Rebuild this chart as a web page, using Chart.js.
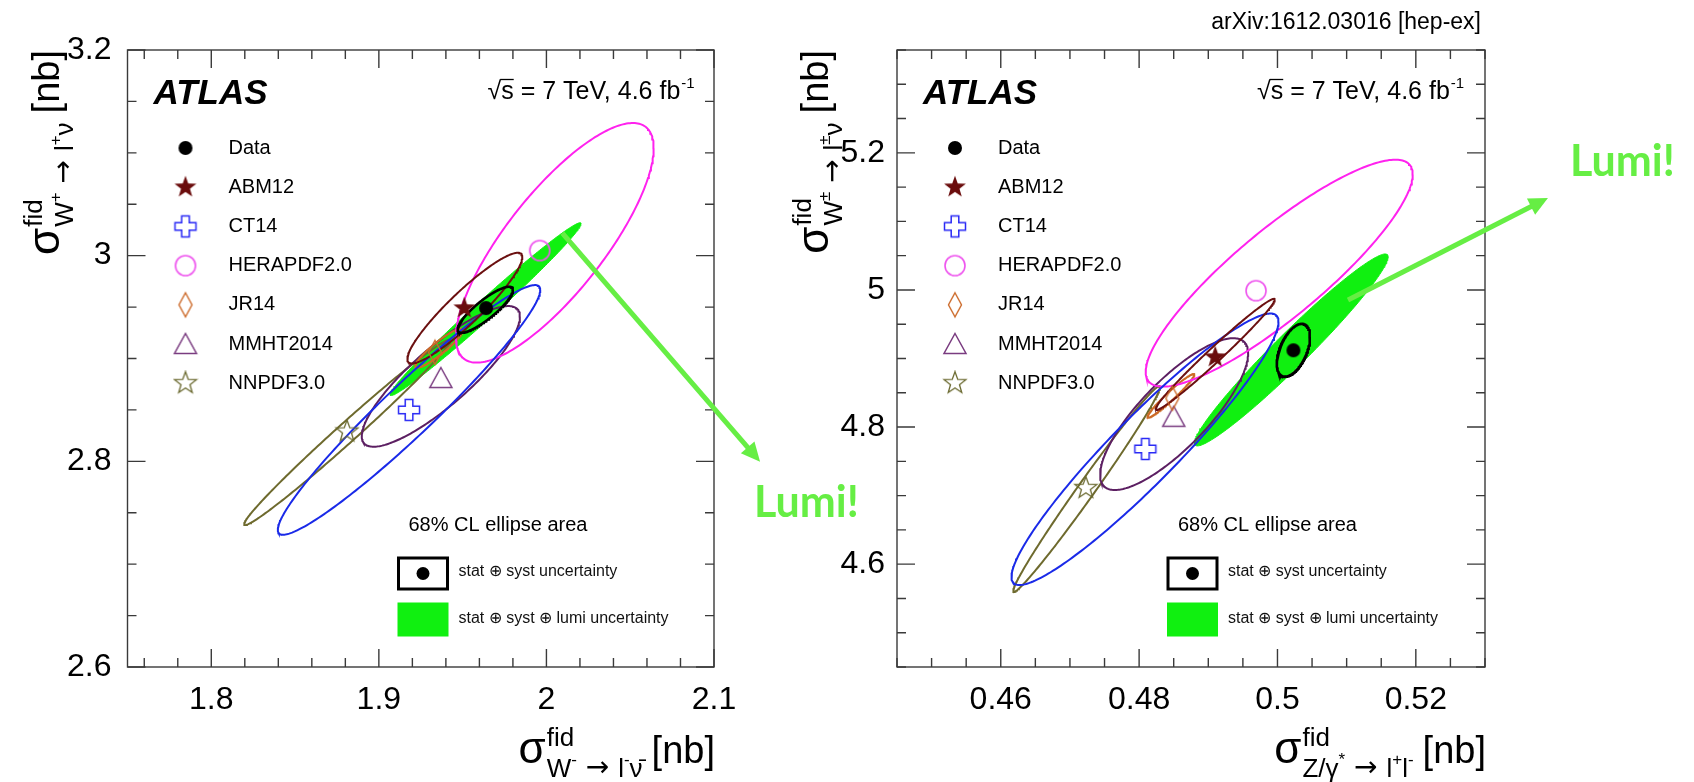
<!DOCTYPE html>
<html>
<head>
<meta charset="utf-8">
<title>ATLAS W/Z fiducial cross sections</title>
<script src="https://cdn.jsdelivr.net/npm/chart.js"></script>
<style>
  html, body { margin: 0; padding: 0; background: #fff; }
  #wrap { position: relative; width: 1694px; height: 782px; overflow: hidden; }
  #wrap canvas { position: absolute; left: 0; top: 0; }
</style>
</head>
<body>
<div id="wrap">
  <canvas id="wChart" width="1694" height="782"></canvas>
  <canvas id="zChart" width="1694" height="782"></canvas>
</div>
<script>
// PDF sets, same order in every array below
const pdfSets = ['ABM12', 'CT14', 'HERAPDF2.0', 'JR14', 'MMHT2014', 'NNPDF3.0'];

// left panel: sigma(W-) on x, sigma(W+) on y  [nb]
const wmPred = [1.951, 1.918, 1.996, 1.9335, 1.937, 1.881];
const wpPred = [2.949, 2.850, 3.005, 2.906, 2.881, 2.829];
const wmData = 1.964;
const wpData = 2.949;
// 68% CL ellipses: [centre x, centre y, half width x, half width y, correlation]
const wEllipses = [
  [1.9513, 2.949, 0.0343, 0.0538, 0.92],
  [1.918, 2.850, 0.0783, 0.1214, 0.96],
  [2.005, 3.0125, 0.059, 0.1165, 0.79],
  [1.9358, 2.910, 0.0142, 0.019, 0.92],
  [1.937, 2.8826, 0.0472, 0.0684, 0.85],
  [1.881, 2.828, 0.0614, 0.090, 0.99]
];
const wDataStat = [1.9635, 2.9474, 0.0165, 0.0224, 0.86];
const wDataTotal = [1.9637, 2.948, 0.057, 0.084, 0.989];
const wmTicks = [1.8, 1.9, 2, 2.1];
const wpTicks = [2.6, 2.8, 3, 3.2];

// right panel: sigma(Z/gamma*) on x, sigma(W+-) on y  [nb]
const zPred = [0.491, 0.4809, 0.4969, 0.4848, 0.4850, 0.4723];
const wpmPred = [4.902, 4.768, 4.999, 4.842, 4.815, 4.711];
const zData = 0.5023;
const wpmData = 4.912;
const zEllipses = [
  [0.491, 4.906, 0.0086, 0.081, 0.985],
  [0.48085, 4.7676, 0.0193, 0.198, 0.94],
  [0.50025, 5.0245, 0.0193, 0.1655, 0.87],
  [0.48458, 4.8455, 0.0034, 0.032, 0.967],
  [0.48506, 4.8189, 0.0107, 0.1107, 0.80],
  [0.4724, 4.7095, 0.0106, 0.150, 0.99]
];
const zDataStat = [0.5023, 4.912, 0.0024, 0.0385, 0.5];
const zDataTotal = [0.502, 4.9125, 0.0140, 0.140, 0.97];
const zTicks = [0.46, 0.48, 0.5, 0.52];
const wpmTicks = [4.6, 4.8, 5, 5.2];

// styling
const FONT = '"Liberation Sans", Arial, sans-serif';
const green = '#10f010';
const lumiGreen = '#66ee44';
const lineColors = ['#6b1010', '#1a2ae8', '#ff22ee', '#cd6b25', '#5c1f62', '#6e6a2e'];

// marker images
function marker(w, h, draw) {
  const c = document.createElement('canvas');
  c.width = w; c.height = h;
  const g = c.getContext('2d');
  g.translate(w / 2, h / 2);
  draw(g);
  return c;
}
function starPath(g, R, r) {
  g.beginPath();
  for (let i = 0; i < 10; i++) {
    const a = -Math.PI / 2 + i * Math.PI / 5, rr = i % 2 ? r : R;
    g.lineTo(rr * Math.cos(a), rr * Math.sin(a));
  }
  g.closePath();
}
const dotImg = marker(18, 18, g => { g.fillStyle = '#000'; g.beginPath(); g.arc(0, 0, 7, 0, 7); g.fill(); });
const markerImgs = [
  marker(26, 26, g => { starPath(g, 11.5, 4.7); g.fillStyle = '#6a0c0c'; g.fill(); }),
  marker(26, 26, g => {
    const a = 3.8, L = 10.5;
    g.beginPath();
    [[-a,-L],[a,-L],[a,-a],[L,-a],[L,a],[a,a],[a,L],[-a,L],[-a,a],[-L,a],[-L,-a],[-a,-a]].forEach(p => g.lineTo(p[0], p[1]));
    g.closePath(); g.strokeStyle = '#2a2af5'; g.lineWidth = 1.5; g.stroke();
  }),
  marker(26, 26, g => { g.beginPath(); g.arc(0, 0, 10, 0, 7); g.strokeStyle = '#ee55ee'; g.lineWidth = 1.6; g.stroke(); }),
  marker(18, 28, g => {
    g.beginPath(); g.moveTo(0, -12); g.lineTo(6.5, 0); g.lineTo(0, 12); g.lineTo(-6.5, 0); g.closePath();
    g.strokeStyle = '#cc6a2a'; g.lineWidth = 1.4; g.stroke();
  }),
  marker(26, 26, g => {
    g.beginPath(); g.moveTo(0, -10.5); g.lineTo(11, 9.5); g.lineTo(-11, 9.5); g.closePath();
    g.strokeStyle = '#7a3c80'; g.lineWidth = 1.5; g.stroke();
  }),
  marker(26, 26, g => { starPath(g, 11.5, 4.7); g.strokeStyle = '#6b6a30'; g.lineWidth = 1.3; g.stroke(); })
];

// outline of an ellipse given its x/y half widths and correlation
function ellipse(e) {
  const [cx, cy, hx, hy, rho] = e;
  const s = Math.sqrt(1 - rho * rho), pts = [];
  for (let i = 0; i <= 240; i++) {
    const t = i / 240 * 2 * Math.PI;
    pts.push({ x: cx + hx * Math.cos(t), y: cy + hy * (rho * Math.cos(t) + s * Math.sin(t)) });
  }
  return pts;
}

function buildDatasets(xs, ys, dx, dy, ells, stat, total) {
  const ds = [];
  ds.push({ data: [{ x: dx, y: dy }], pointStyle: dotImg, order: 0 });
  pdfSets.forEach((name, i) => ds.push({ label: name, data: [{ x: xs[i], y: ys[i] }], pointStyle: markerImgs[i], order: 0 }));
  ds.push({ data: ellipse(stat), showLine: true, borderColor: '#000', borderWidth: 2.6, pointRadius: 0, order: 1 });
  ells.forEach((e, i) => ds.push({ label: pdfSets[i], data: ellipse(e), showLine: true, borderColor: lineColors[i], borderWidth: 2, pointRadius: 0, order: 2 }));
  ds.push({ data: ellipse(total), showLine: true, solid: true, borderColor: green, borderWidth: 1, pointRadius: 0, order: 3 });
  return ds;
}

function eachTick(min, max, step, ratio, fn) {
  const k0 = Math.ceil(min / step - 1e-6), k1 = Math.floor(max / step + 1e-6);
  for (let k = k0; k <= k1; k++) fn(k * step, k % ratio === 0);
}

// sigma^fid_{sub} [nb]; sub is a list of [text, kind] pieces (0 text, 1 raised, 2 arrow)
function drawAxisTitle(ctx, x, y, rot, sub) {
  const fSig = '44px ' + FONT, fNb = '38px ' + FONT;
  const fonts = ['26px ' + FONT, '17px ' + FONT, '28px "DejaVu Sans", ' + FONT];
  const lift = [14, 2, 13];
  ctx.save();
  ctx.translate(x, y);
  ctx.rotate(rot);
  ctx.fillStyle = '#000';
  ctx.textAlign = 'left';
  ctx.textBaseline = 'alphabetic';
  const pieceW = p => { ctx.font = fonts[p[1]]; return ctx.measureText(p[0]).width; };
  const wSubAll = sub.reduce((s, p) => s + pieceW(p), 0);
  ctx.font = fonts[0]; const wFid = ctx.measureText('fid').width;
  ctx.font = fNb; const wNb = ctx.measureText('[nb]').width;
  ctx.font = fSig; const wSig = ctx.measureText('σ').width;
  let cx = -(wNb + 9 + Math.max(wSubAll, wFid) + wSig + 1);
  ctx.fillText('σ', cx, 0);
  cx += wSig + 1;
  ctx.font = fonts[0];
  ctx.fillText('fid', cx, -17);
  sub.forEach(p => {
    ctx.font = fonts[p[1]];
    ctx.fillText(p[0], cx, lift[p[1]]);
    cx += ctx.measureText(p[0]).width;
  });
  ctx.font = fNb;
  ctx.fillText('[nb]', -wNb, 0);
  ctx.restore();
}

function drawArrow(ctx, x0, y0, x1, y1) {
  const ang = Math.atan2(y1 - y0, x1 - x0), c = Math.cos(ang), s = Math.sin(ang), hl = 19, hw = 9;
  ctx.strokeStyle = lumiGreen; ctx.fillStyle = lumiGreen; ctx.lineWidth = 5;
  ctx.beginPath(); ctx.moveTo(x0, y0); ctx.lineTo(x1 - hl * 0.7 * c, y1 - hl * 0.7 * s); ctx.stroke();
  ctx.beginPath(); ctx.moveTo(x1, y1);
  ctx.lineTo(x1 - hl * c + hw * s, y1 - hl * s - hw * c);
  ctx.lineTo(x1 - hl * c - hw * s, y1 - hl * s + hw * c);
  ctx.closePath(); ctx.fill();
}

const fillPlugin = {
  id: 'solidEllipse',
  beforeDatasetsDraw(chart) {
    const { ctx, chartArea: a } = chart;
    chart.data.datasets.forEach((d, i) => {
      if (!d.solid) return;
      const pts = chart.getDatasetMeta(i).data;
      ctx.save();
      ctx.beginPath(); ctx.rect(a.left, a.top, a.right - a.left, a.bottom - a.top); ctx.clip();
      ctx.beginPath();
      pts.forEach(p => ctx.lineTo(p.x, p.y));
      ctx.closePath();
      ctx.fillStyle = green; ctx.fill();
      ctx.restore();
    });
  }
};

function makePanel(p) {
  return {
    id: 'panel',
    afterDraw(chart) {
      const { ctx, chartArea: a } = chart;
      const sx = chart.scales.x, sy = chart.scales.y;
      ctx.save();
      // frame with inward ticks on all four sides
      ctx.strokeStyle = '#3a3a3a'; ctx.lineWidth = 1.4;
      ctx.strokeRect(a.left, a.top, a.right - a.left, a.bottom - a.top);
      ctx.beginPath();
      eachTick(sx.min, sx.max, p.xMinor, p.xRatio, (v, major) => {
        const X = sx.getPixelForValue(v), L = major ? 18 : 9;
        ctx.moveTo(X, a.bottom); ctx.lineTo(X, a.bottom - L);
        ctx.moveTo(X, a.top); ctx.lineTo(X, a.top + L);
      });
      eachTick(sy.min, sy.max, p.yMinor, p.yRatio, (v, major) => {
        const Y = sy.getPixelForValue(v), L = major ? 18 : 9;
        ctx.moveTo(a.left, Y); ctx.lineTo(a.left + L, Y);
        ctx.moveTo(a.right, Y); ctx.lineTo(a.right - L, Y);
      });
      ctx.stroke();

      ctx.fillStyle = '#000';
      ctx.textAlign = 'left';
      // ATLAS label and energy / luminosity
      ctx.textBaseline = 'alphabetic';
      ctx.font = 'italic bold 35px ' + FONT;
      ctx.fillText('ATLAS', a.left + 26, a.top + 54);
      ctx.font = '25px ' + FONT;
      const x0 = a.left + 360, yb = a.top + 49;
      const wRoot = ctx.measureText('√').width, wS = ctx.measureText('s').width;
      ctx.fillText('√s = 7 TeV, 4.6 fb', x0, yb);
      const wAll = ctx.measureText('√s = 7 TeV, 4.6 fb').width;
      ctx.lineWidth = 1.3; ctx.strokeStyle = '#000';
      ctx.beginPath(); ctx.moveTo(x0 + wRoot - 1, yb - 19.5); ctx.lineTo(x0 + wRoot + wS, yb - 19.5); ctx.stroke();
      ctx.font = '15px ' + FONT;
      ctx.fillText('-1', x0 + wAll + 1, yb - 11);

      // legend of predictions
      ctx.font = '20px ' + FONT;
      ctx.textBaseline = 'middle';
      const names = ['Data'].concat(pdfSets), imgs = [dotImg].concat(markerImgs);
      imgs.forEach((img, i) => {
        const y = a.top + 98 + i * 39.2;
        ctx.drawImage(img, a.left + 58 - img.width / 2, y - img.height / 2);
        ctx.fillText(names[i], a.left + 101, y);
      });
      // ellipse legend
      ctx.fillText('68% CL ellipse area', a.left + 281, a.top + 475);
      ctx.lineWidth = 3; ctx.strokeStyle = '#000';
      ctx.strokeRect(a.left + 271, a.top + 508, 49, 31);
      ctx.beginPath(); ctx.arc(a.left + 295.5, a.top + 523.5, 6.5, 0, 7); ctx.fill();
      ctx.fillStyle = green;
      ctx.fillRect(a.left + 270, a.top + 552.5, 51, 34);
      ctx.fillStyle = '#111';
      ctx.font = '16px ' + FONT;
      ctx.fillText('stat ⊕ syst uncertainty', a.left + 331, a.top + 522);
      ctx.fillText('stat ⊕ syst ⊕ lumi uncertainty', a.left + 331, a.top + 569);

      // axis titles
      drawAxisTitle(ctx, a.right + 1, 763, 0, p.xSub);
      drawAxisTitle(ctx, a.left - 69, a.top, -Math.PI / 2, p.ySub);

      // annotations
      drawArrow(ctx, sx.getPixelForValue(p.arrow[0]), sy.getPixelForValue(p.arrow[1]),
                sx.getPixelForValue(p.arrow[2]), sy.getPixelForValue(p.arrow[3]));
      ctx.fillStyle = lumiGreen;
      ctx.textBaseline = 'alphabetic';
      ctx.font = 'bold 43px Lato, "Open Sans", sans-serif';
      ctx.fillText('Lumi!', sx.getPixelForValue(p.lumi[0]), sy.getPixelForValue(p.lumi[1]));
      if (p.note) {
        ctx.fillStyle = '#000';
        ctx.font = '23px ' + FONT;
        ctx.textAlign = 'right';
        ctx.fillText(p.note, a.right - 4, 29);
      }
      ctx.restore();
    }
  };
}

function makeChart(id, datasets, xr, yr, xTicks, yTicks, pad, yWidth, yPad, panel) {
  return new Chart(document.getElementById(id), {
    type: 'scatter',
    data: { datasets: datasets },
    options: {
      responsive: false,
      animation: false,
      events: [],
      layout: { padding: pad },
      plugins: { legend: { display: false }, tooltip: { enabled: false } },
      scales: {
        x: {
          type: 'linear', min: xr[0], max: xr[1],
          grid: { display: false, drawTicks: false },
          border: { display: false },
          afterBuildTicks: ax => { ax.ticks = xTicks.map(v => ({ value: v })); },
          afterFit: ax => { ax.height = 115; },
          ticks: { color: '#000', padding: 14, font: { family: FONT, size: 32 },
                   maxRotation: 0, autoSkip: false, callback: v => String(+v.toFixed(3)) }
        },
        y: {
          type: 'linear', min: yr[0], max: yr[1],
          grid: { display: false, drawTicks: false },
          border: { display: false },
          afterBuildTicks: ax => { ax.ticks = yTicks.map(v => ({ value: v })); },
          afterFit: ax => { ax.width = yWidth; },
          ticks: { color: '#000', padding: yPad, font: { family: FONT, size: 32 },
                   autoSkip: false, callback: v => String(+v.toFixed(3)) }
        }
      }
    },
    plugins: [fillPlugin, makePanel(panel)]
  });
}

makeChart('wChart',
  buildDatasets(wmPred, wpPred, wmData, wpData, wEllipses, wDataStat, wDataTotal),
  [1.75, 2.1], [2.6, 3.2], wmTicks, wpTicks,
  { left: 0, top: 50, right: 980, bottom: 0 }, 127.5, 16,
  { xMinor: 0.02, xRatio: 5, yMinor: 0.05, yRatio: 4,
    xSub: [['W', 0], ['-', 1], [' → ', 2], ['l', 0], ['-', 1], ['ν̄', 0]],
    ySub: [['W', 0], ['+', 1], [' → ', 2], ['l', 0], ['+', 1], ['ν', 0]],
    arrow: [2.0095, 3.022, 2.1275, 2.7996], lumi: [2.1239, 2.7459] });

makeChart('zChart',
  buildDatasets(zPred, wpmPred, zData, wpmData, zEllipses, zDataStat, zDataTotal),
  [0.445, 0.53], [4.45, 5.35], zTicks, wpmTicks,
  { left: 780, top: 50, right: 209, bottom: 0 }, 117, 12,
  { xMinor: 0.005, xRatio: 4, yMinor: 0.05, yRatio: 4,
    xSub: [['Z/γ', 0], ['*', 1], [' → ', 2], ['l', 0], ['+', 1], ['l', 0], ['-', 1]],
    ySub: [['W', 0], ['±', 1], [' → ', 2], ['l', 0], ['±', 1], ['ν', 0]],
    arrow: [0.5102, 4.9854, 0.5391, 5.1341], lumi: [0.5423, 5.1662],
    note: 'arXiv:1612.03016 [hep-ex]' });
</script>
</body>
</html>
